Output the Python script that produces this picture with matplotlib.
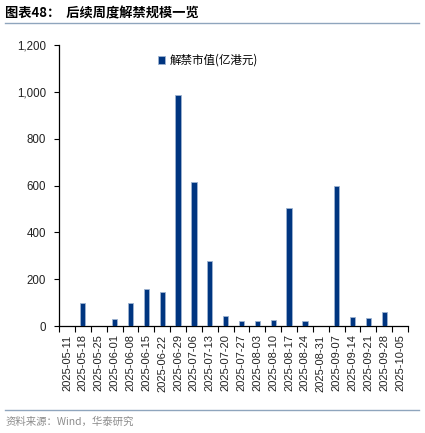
import matplotlib
matplotlib.use('Agg')
import matplotlib.pyplot as plt
from matplotlib.lines import Line2D
import numpy as np

plt.rcParams['font.family'] = ['Liberation Sans', 'Noto Sans CJK SC', 'DejaVu Sans']

# 周度解禁市值 (亿港元)
weeks = ['2025-05-11', '2025-05-18', '2025-05-25', '2025-06-01', '2025-06-08',
         '2025-06-15', '2025-06-22', '2025-06-29', '2025-07-06', '2025-07-13',
         '2025-07-20', '2025-07-27', '2025-08-03', '2025-08-10', '2025-08-17',
         '2025-08-24', '2025-08-31', '2025-09-07', '2025-09-14', '2025-09-21',
         '2025-09-28', '2025-10-05']
values = [0, 100, 0, 30, 100, 160, 145, 985, 615, 278,
          42, 20, 20, 24, 502, 20, 0, 597, 38, 34, 60, 0]
y_ticks = [0, 200, 400, 600, 800, 1000, 1200]

fig = plt.figure(figsize=(4.25, 4.33), dpi=100)
ax = fig.add_axes([0.139, 0.247, 0.821, 0.649])

x = np.arange(len(weeks))
ax.bar(x, values, width=0.33, color='#003580', edgecolor='#9db3d0', linewidth=0.6,
       label='解禁市值(亿港元)', zorder=3)

ax.set_xlim(-0.5, len(weeks) - 0.5)
ax.set_ylim(0, 1200)
ax.set_yticks(y_ticks)
ax.set_yticklabels([f'{v:,}' for v in y_ticks], fontsize=8.3, color='#222222')
ax.set_xticks(x)
ax.set_xticklabels(weeks, rotation=90, fontsize=8, color='#222222')
ax.tick_params(axis='x', which='major', length=0, pad=6)
ax.set_xticks(np.arange(-0.5, len(weeks), 1), minor=True)
ax.tick_params(axis='x', which='minor', length=4, width=0.8, direction='out')
ax.tick_params(axis='y', length=3.5, width=0.8, direction='out', pad=6)

for s in ['top', 'right']:
    ax.spines[s].set_visible(False)
ax.spines['left'].set_linewidth(0.9)
ax.spines['bottom'].set_linewidth(0.9)

ax.legend(loc='upper left', bbox_to_anchor=(0.255, 1.005), frameon=False,
          prop={'family': ['Noto Sans CJK SC', 'DejaVu Sans'], 'size': 8.3},
          handlelength=0.6, handleheight=0.6, handletextpad=0.35)

# 标题和来源
fig.text(0.012, 0.968, '图表48：  后续周度解禁规模一览', fontsize=9.5, fontweight='bold',
         family=['Noto Sans CJK SC', 'DejaVu Sans'], va='center')
fig.add_artist(Line2D([0.012, 0.985], [0.948, 0.948], color='#8fa5bd', linewidth=1.0))
fig.add_artist(Line2D([0.012, 0.985], [0.052, 0.052], color='#8fa5bd', linewidth=1.0))
fig.text(0.014, 0.027, '资料来源：Wind，华泰研究', fontsize=7.5, color='#8c8c8c',
         family=['Noto Sans CJK SC', 'DejaVu Sans'], va='center')

fig.savefig('out.png', dpi=100)
